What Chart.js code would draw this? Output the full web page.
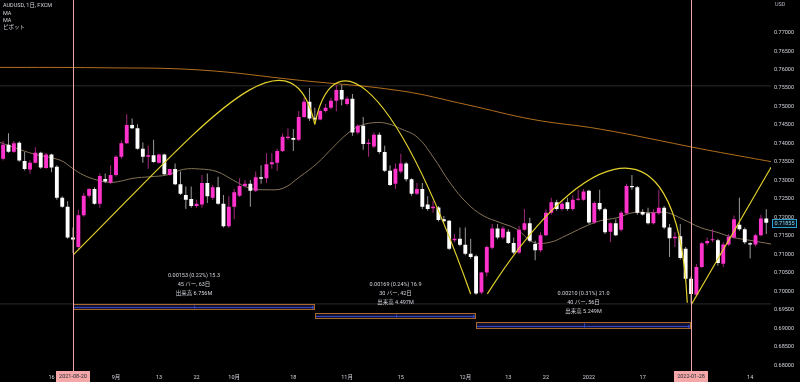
<!DOCTYPE html>
<html><head><meta charset="utf-8">
<script src="https://cdn.jsdelivr.net/npm/chart.js"></script>
<style>html,body{margin:0;padding:0;background:#000;}#wrap{width:800px;height:382px;position:relative;background:#000;}</style>
</head><body><div id="wrap"><canvas id="c"></canvas></div>
<script>
// ---- data (bar index 0 = 2021-08-20, one bar per weekday) ----
const START_INDEX = -13;
const OPEN  = [.7359,.7397,.7378,.7402,.7353,.7330,.7348,.7375,.7334,.7370,.7337,.7253,.7229,.7146,.7120,.7206,.7259,.7277,.7237,.7304,.7294,.7315,.7364,.7401,.7450,.7441,.7386,.7364,.7368,.7348,.7370,.7315,.7331,.7290,.7261,.7250,.7231,.7235,.7293,.7253,.7282,.7237,.7176,.7229,.7259,.7285,.7291,.7272,.7309,.7306,.7344,.7348,.7380,.7415,.7415,.7410,.7472,.7513,.7470,.7465,.7488,.7497,.7516,.7545,.7507,.7521,.7430,.7448,.7399,.7392,.7424,.7377,.7326,.7291,.7324,.7346,.7303,.7264,.7277,.7235,.7225,.7227,.7195,.7191,.7138,.7142,.7126,.7102,.7095,.6997,.7051,.7118,.7170,.7146,.7161,.7131,.7105,.7167,.7184,.7128,.7111,.7152,.7213,.7241,.7223,.7241,.7223,.7248,.7248,.7272,.7186,.7239,.7222,.7161,.7184,.7167,.7211,.7285,.7282,.7215,.7211,.7184,.7211,.7226,.7173,.7144,.7149,.7115,.7034,.6991,.7066,.7130,.7138,.7138,.7075,.7127,.7146,.7180,.7168,.7130,.7127,.7152,.7197];
const HIGH  = [.7407,.7428,.7407,.7406,.7377,.7355,.7390,.7378,.7375,.7372,.7341,.7257,.7244,.7173,.7221,.7266,.7279,.7282,.7319,.7319,.7341,.7368,.7408,.7479,.7468,.7452,.7403,.7394,.7410,.7372,.7372,.7332,.7346,.7324,.7284,.7284,.7248,.7315,.7319,.7288,.7310,.7261,.7257,.7277,.7306,.7301,.7301,.7324,.7341,.7374,.7374,.7386,.7427,.7441,.7439,.7488,.7525,.7550,.7497,.7492,.7507,.7523,.7559,.7559,.7527,.7534,.7452,.7472,.7412,.7430,.7430,.7394,.7341,.7346,.7372,.7350,.7306,.7293,.7293,.7257,.7244,.7231,.7204,.7193,.7155,.7173,.7173,.7142,.7099,.7053,.7124,.7182,.7182,.7177,.7168,.7146,.7177,.7223,.7199,.7137,.7160,.7222,.7253,.7248,.7244,.7253,.7261,.7275,.7277,.7275,.7244,.7275,.7226,.7186,.7195,.7217,.7291,.7315,.7285,.7222,.7226,.7222,.7275,.7231,.7182,.7160,.7182,.7120,.7040,.7074,.7133,.7146,.7168,.7142,.7133,.7155,.7205,.7253,.7173,.7133,.7155,.7207,.7222];
const LOW   = [.7354,.7375,.7375,.7351,.7327,.7319,.7346,.7332,.7332,.7322,.7248,.7226,.7142,.7104,.7115,.7202,.7253,.7234,.7226,.7293,.7290,.7311,.7359,.7399,.7439,.7383,.7348,.7332,.7348,.7346,.7315,.7313,.7287,.7261,.7223,.7226,.7226,.7226,.7239,.7248,.7234,.7173,.7172,.7195,.7255,.7282,.7229,.7269,.7291,.7293,.7332,.7326,.7377,.7410,.7380,.7407,.7469,.7461,.7463,.7463,.7484,.7493,.7487,.7503,.7503,.7421,.7425,.7383,.7364,.7388,.7372,.7323,.7285,.7277,.7319,.7297,.7259,.7261,.7223,.7218,.7213,.7189,.7186,.7112,.7133,.7122,.7098,.7088,.6991,.6992,.7040,.7114,.7141,.7141,.7128,.7101,.7101,.7164,.7133,.7084,.7106,.7149,.7207,.7218,.7218,.7218,.7218,.7245,.7245,.7182,.7182,.7218,.7155,.7133,.7149,.7162,.7207,.7275,.7207,.7205,.7181,.7181,.7207,.7168,.7093,.7120,.7086,.7029,.6968,.6987,.7064,.7125,.7133,.7069,.7066,.7122,.7142,.7164,.7128,.7089,.7122,.7149,.7155];
const CLOSE = [.7397,.7378,.7401,.7354,.7331,.7348,.7375,.7335,.7370,.7335,.7253,.7229,.7146,.7140,.7206,.7259,.7277,.7237,.7312,.7297,.7315,.7364,.7401,.7450,.7441,.7386,.7364,.7368,.7350,.7370,.7317,.7331,.7290,.7264,.7248,.7231,.7237,.7293,.7257,.7282,.7237,.7176,.7229,.7268,.7285,.7291,.7272,.7309,.7305,.7344,.7349,.7380,.7418,.7418,.7410,.7472,.7513,.7468,.7465,.7488,.7497,.7516,.7545,.7519,.7521,.7430,.7448,.7399,.7402,.7424,.7377,.7326,.7288,.7332,.7346,.7303,.7264,.7277,.7229,.7223,.7229,.7193,.7190,.7115,.7142,.7126,.7102,.7093,.6994,.7051,.7120,.7170,.7146,.7170,.7131,.7105,.7167,.7184,.7137,.7111,.7152,.7213,.7241,.7223,.7237,.7223,.7248,.7250,.7270,.7186,.7239,.7222,.7160,.7184,.7152,.7213,.7285,.7282,.7213,.7208,.7184,.7213,.7226,.7173,.7144,.7148,.7090,.7034,.6993,.7066,.7130,.7136,.7141,.7077,.7127,.7148,.7195,.7168,.7133,.7127,.7152,.7197,.71855];

const MA_SHORT_X = [-13.6,-7.4,-2.4,0,1.9,4.5,6.9,8.8,11.2,14.3,17.5,20.5,23.6,26.8,29.8,32.9,36.1,39.1,42.2,45.4,48.4,51,53.4,56.6,59,60.8,64,67,70.2,73.3,76.3,79.5,82.6,85.6,88.8,91.9,94.9,98.1,101.2,104.2,107.4,110.5,113.5,116.7,119.8,122.8,126,129.9];
const MA_SHORT_Y = [.7403,.7372,.7355,.7332,.7315,.7301,.7295,.7298,.7306,.7310,.7315,.7330,.7331,.7324,.7301,.7279,.7275,.7279,.7310,.7346,.7390,.7426,.7448,.7457,.7452,.7441,.7418,.7364,.7293,.7239,.7205,.7186,.7168,.7133,.7133,.7152,.7173,.7191,.7199,.7213,.7213,.7213,.7195,.7173,.7160,.7146,.7138,.7128];
const MA_LONG_X = [-13.6,5,23.6,42.2,60.8,73.3,85.6,98.1,116.7,121.9,129.9];
const MA_LONG_Y = [.7606,.7605,.7599,.7571,.7543,.7505,.7465,.7439,.7386,.7372,.7351];

const PIVOT_LEVELS = [0.7556, 0.6966];

const TICK_POS  = [-4,0,8,16,23,30,41,51,61,73,81,88,96,106,115,126];
const TICK_TEXT = ['16','2021-08-20','9月','13','22','10月','18','11月','15','12月','13','22','2022','17','2022-01-28','14'];
const MARKED_POS = [0,115];
const Y_TICKS = [0.68,0.685,0.69,0.695,0.70,0.705,0.71,0.715,0.72,0.725,0.73,0.735,0.74,0.745,0.75,0.755,0.76,0.765,0.77];
const X_MIN = -13.58, X_MAX = 129.88, Y_MIN = 0.67872, Y_MAX = 0.77713;

// date/price range drawings
const RANGE_START = [0,45,75];
const RANGE_END   = [45,75,115];
const RANGE_LOW   = [0.69509,0.69263,0.68982];
const RANGE_HIGH  = [0.69662,0.69423,0.69184];
const RANGE_TEXT  = [
  ['0.00153 (0.22%) 15.3','45 バー, 63日','出来高 6.756M'],
  ['0.00169 (0.24%) 16.9','30 バー, 42日','出来高 4.497M'],
  ['0.00210 (0.31%) 21.0','40 バー, 56日','出来高 5.249M']];
// hand-drawn curves: cubic bezier control points [barIndex, price]
const CURVES = [
  [[0,.7098],[23.6,.7439],[40.4,.7748],[45,.7452]],
  [[45,.7452],[47.9,.7660],[58.1,.7640],[74,.6993]],
  [[77.1,.6993],[92.4,.7345],[112.4,.7548],[114.3,.6969]]];
const TREND_LINE = [[115.1,.6965],[129.9,.7336]];
const HEADER = ['AUDUSD, 1日, FXCM','MA','MA','ピボット'];
const LAST_PRICE = 0.71855;

const FONT = "Roboto, 'Liberation Sans', 'Noto Sans CJK JP', sans-serif";
const UP = '#ff33cc', DOWN = '#ffffff';

const idx = OPEN.map((_,k)=>START_INDEX+k);
const isUp = OPEN.map((o,k)=>CLOSE[k]>=o);

const overlay = {
  id:'overlay',
  afterDatasetsDraw(chart){
    const {ctx, scales:{x,y}, chartArea:ca} = chart;
    ctx.save();
    ctx.beginPath(); ctx.rect(ca.left, ca.top, ca.right-ca.left, ca.bottom-ca.top); ctx.clip();
    // range boxes
    for(let k=0;k<RANGE_START.length;k++){
      const x0=Math.round(x.getPixelForValue(RANGE_START[k])), x1=Math.round(x.getPixelForValue(RANGE_END[k]));
      const yT=Math.round(y.getPixelForValue(RANGE_HIGH[k])), yB=Math.round(y.getPixelForValue(RANGE_LOW[k]));
      ctx.fillStyle='rgba(25,25,80,0.7)'; ctx.fillRect(x0,yT,x1-x0,yB-yT);
      ctx.strokeStyle='#a8682a'; ctx.lineWidth=1; ctx.strokeRect(x0+0.5,yT+0.5,x1-x0-1,yB-yT-1);
      const ym=Math.round((yT+yB)/2)+0.5;
      ctx.strokeStyle='#3447b8'; ctx.beginPath(); ctx.moveTo(x0+1,ym); ctx.lineTo(x1-1,ym);
      const xc=Math.round((x0+x1)/2)+0.5; ctx.moveTo(xc,yT+1.5); ctx.lineTo(xc,yB-1.5);
      ctx.moveTo(x1-3,ym-1.5); ctx.lineTo(x1-1,ym); ctx.lineTo(x1-3,ym+1.5); ctx.stroke();
      ctx.fillStyle='#d1d4dc'; ctx.font='5.5px '+FONT; ctx.textAlign='center'; ctx.textBaseline='middle';
      const offs=[-28,-19,-10];
      RANGE_TEXT[k].forEach((t,j)=>ctx.fillText(t,(x0+x1)/2,yT+offs[j]));
    }
    // curves
    ctx.strokeStyle='#e3d12b'; ctx.lineWidth=1.2;
    CURVES.forEach(c=>{
      const p=c.map(q=>[x.getPixelForValue(q[0]),y.getPixelForValue(q[1])]);
      ctx.beginPath(); ctx.moveTo(p[0][0],p[0][1]);
      ctx.bezierCurveTo(p[1][0],p[1][1],p[2][0],p[2][1],p[3][0],p[3][1]); ctx.stroke();
    });
    ctx.beginPath();
    ctx.moveTo(x.getPixelForValue(TREND_LINE[0][0]),y.getPixelForValue(TREND_LINE[0][1]));
    ctx.lineTo(x.getPixelForValue(TREND_LINE[1][0]),y.getPixelForValue(TREND_LINE[1][1]));
    ctx.stroke();
    ctx.restore();
  },
  afterDraw(chart){
    const {ctx, scales:{x,y}} = chart;
    ctx.save();
    // vertical markers
    ctx.strokeStyle='#f0a4a4'; ctx.lineWidth=1;
    MARKED_POS.forEach(v=>{const px=Math.round(x.getPixelForValue(v))+0.5; ctx.beginPath(); ctx.moveTo(px,0); ctx.lineTo(px,chart.height); ctx.stroke();});
    ctx.font='5.5px '+FONT; ctx.textBaseline='middle';
    MARKED_POS.forEach(v=>{
      const t=TICK_TEXT[TICK_POS.indexOf(v)]; const px=x.getPixelForValue(v);
      const w=ctx.measureText(t).width+6;
      ctx.fillStyle='#f5a6a6'; ctx.fillRect(Math.round(px-w/2),371,Math.round(w),11);
      ctx.fillStyle='#2a2e39'; ctx.textAlign='center'; ctx.fillText(t,px,377);
    });
    // header
    ctx.fillStyle='#d1d4dc'; ctx.textAlign='left';
    const hy=[6,13.5,20.5,28];
    HEADER.forEach((t,j)=>ctx.fillText(t,3,hy[j]));
    ctx.fillStyle='#b2b5be'; ctx.fillText('USD',775,5);
    // last price label
    const py=y.getPixelForValue(LAST_PRICE);
    ctx.fillStyle='#06161f'; ctx.fillRect(772,Math.round(py)-4,25,9);
    ctx.strokeStyle='#2f9ccc'; ctx.strokeRect(772.5,Math.round(py)-3.5,24,8);
    ctx.fillStyle='#8fd3f2'; ctx.fillText(LAST_PRICE.toFixed(5),774.5,py+0.5);
    ctx.restore();
  }
};

new Chart(document.getElementById('c'),{
  data:{datasets:[
    {type:'bar',label:'body',order:1,grouped:false,maxBarThickness:4,minBarLength:1,borderWidth:0,
     data:idx.map((v,k)=>({x:v,y:[OPEN[k],CLOSE[k]]})),
     backgroundColor:isUp.map(u=>u?UP:DOWN)},
    {type:'bar',label:'wick',order:2,grouped:false,maxBarThickness:1,borderWidth:0,
     data:idx.map((v,k)=>({x:v,y:[LOW[k],HIGH[k]]})),
     backgroundColor:isUp.map(u=>u?'#a3287f':'#9a9a9a')},
    {type:'line',label:'MA',order:3,data:MA_SHORT_X.map((v,k)=>({x:v,y:MA_SHORT_Y[k]})),
     borderColor:'#857458',borderWidth:1,pointRadius:0,tension:0.4},
    {type:'line',label:'MA2',order:4,data:MA_LONG_X.map((v,k)=>({x:v,y:MA_LONG_Y[k]})),
     borderColor:'#b06e1e',borderWidth:1,pointRadius:0,tension:0.4},
    ...PIVOT_LEVELS.map(p=>({type:'line',label:'pivot',order:5,data:[{x:X_MIN,y:p},{x:X_MAX,y:p}],
     borderColor:'#2a2a2a',borderWidth:1,pointRadius:0}))
  ]},
  options:{
    responsive:true,maintainAspectRatio:false,animation:false,events:[],
    layout:{padding:0},
    plugins:{legend:{display:false},tooltip:{enabled:false}},
    scales:{
      x:{type:'linear',min:X_MIN,max:X_MAX,position:'bottom',offset:false,
         grid:{display:false,drawTicks:false},border:{display:false},
         afterBuildTicks:s=>{s.ticks=TICK_POS.map(v=>({value:v}));},
         afterFit:s=>{s.height=12;},
         ticks:{autoSkip:false,maxRotation:0,padding:4,color:'#d1d4dc',font:{family:FONT,size:5.5},
           callback:(v)=>{const k=TICK_POS.indexOf(v); return (k<0||MARKED_POS.includes(v))?'':TICK_TEXT[k];}}},
      y:{type:'linear',min:Y_MIN,max:Y_MAX,position:'right',
         grid:{display:false,drawTicks:false},border:{display:false},
         afterBuildTicks:s=>{s.ticks=Y_TICKS.map(v=>({value:v}));},
         afterFit:s=>{s.width=29;},
         ticks:{padding:3,color:'#d1d4dc',font:{family:FONT,size:5.5},callback:v=>Number(v).toFixed(5)}}
    }
  },
  plugins:[overlay]
});
</script></body></html>
